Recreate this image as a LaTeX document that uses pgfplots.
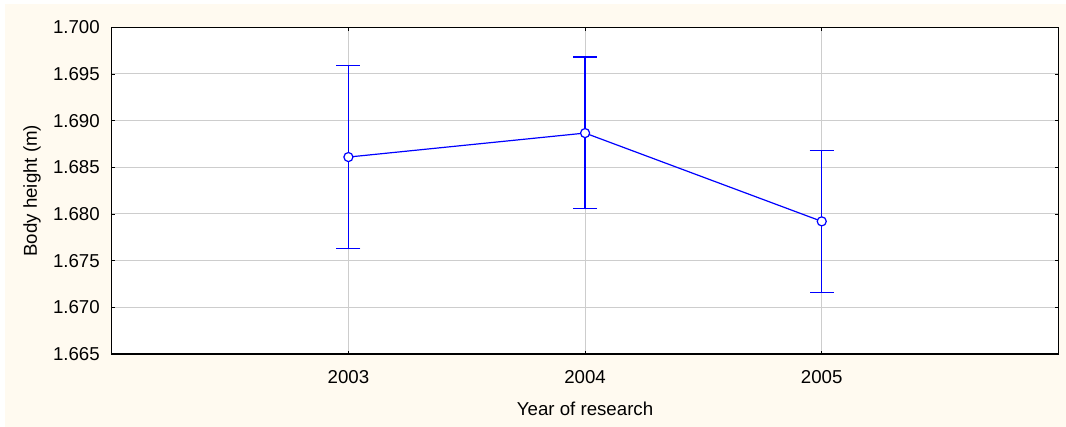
\documentclass[border=0pt]{standalone}
\usepackage{pgfplots}
\pgfplotsset{compat=1.18}
\usepackage{fontspec}
\setmainfont{Liberation Sans}
\definecolor{cream}{RGB}{255,250,240}
\definecolor{gridgray}{RGB}{205,205,205}
\definecolor{serblue}{RGB}{0,0,255}
\begin{document}
\begin{tikzpicture}
\fill[white] (-83.8pt,-54.75pt) rectangle (715.7pt,265.5pt);
\fill[cream] (-80.0pt,-54.75pt) rectangle (715.7pt,262.5pt);
\begin{axis}[
  at={(0pt,0pt)}, anchor=south west,
  scale only axis,
  width=710pt, height=245pt,
  xmin=2002, xmax=2006,
  ymin=1.665, ymax=1.700,
  xtick={2003,2004,2005},
  xticklabels={2003,2004,2005},
  ytick={1.665,1.670,1.675,1.680,1.685,1.690,1.695,1.700},
  yticklabel style={/pgf/number format/.cd, fixed, fixed zerofill, precision=3, assume math mode=true},
  scaled y ticks=false,
  tick label style={font=\fontsize{14}{16.8}\selectfont, inner sep=0pt},
  xticklabel shift=12pt,
  yticklabel shift=8.8pt,
  tick align=inside,
  major tick length=2.5pt,
  tick style={black, line width=0.6pt},
  axis background/.style={fill=white},
  axis line style={black, line width=0.8pt},
  grid=major,
  major grid style={gridgray, line width=0.75pt},
  xlabel={Year of research},
  ylabel={Body height (m)},
  every axis x label/.style={at={(axis description cs:0.5,-0.16837)}, anchor=center, font=\fontsize{14}{16.8}\selectfont},
  every axis y label/.style={at={(axis description cs:-0.08423,0.5)}, anchor=center, rotate=90, font=\fontsize{14}{16.8}\selectfont},
]
\addplot[color=serblue, line width=0.9pt, mark=*, mark size=3.4pt,
  mark options={fill=white, draw=serblue, line width=0.9pt, solid},
  error bars/.cd, y dir=both, y explicit,
  error bar style={color=serblue, line width=0.9pt},
  error mark options={color=serblue, line width=0.9pt, mark size=9pt, rotate=90}]
coordinates {
  (2003,1.6861) += (0,0.00983) -= (0,0.00982)
  (2004,1.68867) += (0,0.00815) -= (0,0.00806)
  (2005,1.67921) += (0,0.00757) -= (0,0.00764)
};
\end{axis}
\end{tikzpicture}
\end{document}
